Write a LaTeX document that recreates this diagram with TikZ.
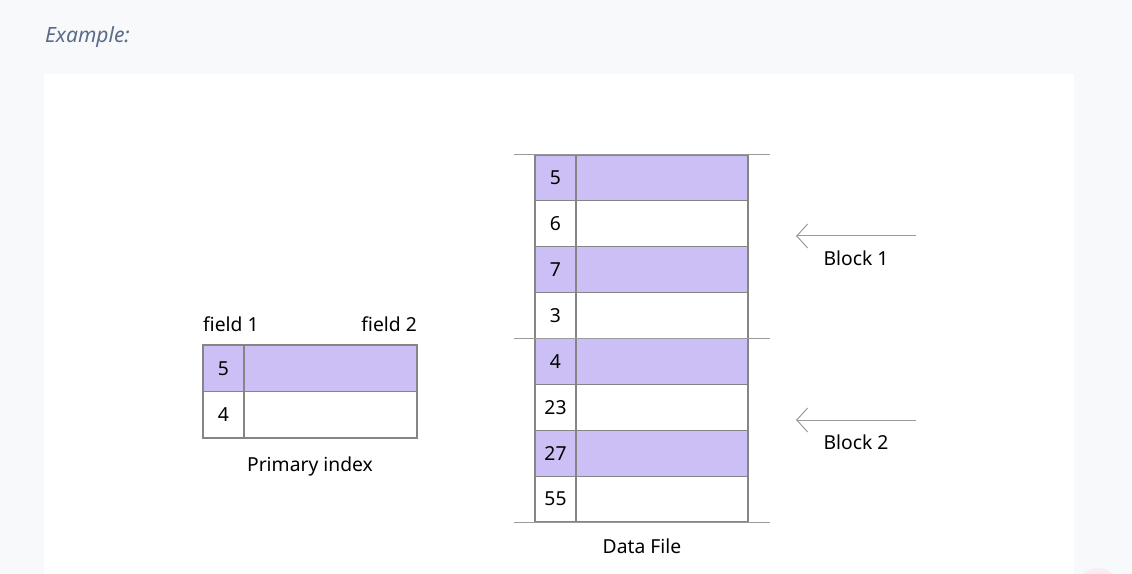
\documentclass[tikz,border=0pt]{standalone}
\usepackage{fontspec}
\setmainfont{Noto Sans}
\usepackage{tikz}
\usetikzlibrary{arrows.meta,positioning}
\definecolor{pagebg}{HTML}{F8F9FB}
\definecolor{rowfill}{HTML}{CCBFF5}
\definecolor{cellline}{HTML}{858585}
\definecolor{ruleline}{HTML}{9A9A9A}
\definecolor{notecol}{HTML}{5B6B8A}
\definecolor{bubble}{HTML}{FCEBF0}
\tikzset{
 txt/.style={font=\fontsize{19.3bp}{23bp}\selectfont, text=black, inner sep=0pt}, % plain labels
 cell/.style={txt, draw=cellline, line width=1.2bp, minimum height=45.875bp, outer sep=0pt},
 keycell/.style={cell, minimum width=41bp},
 valcell/.style={cell, minimum width=172bp},
 blockline/.style={draw=ruleline, line width=1bp},
 ptr/.style={draw=ruleline, line width=1bp, -{Straight Barb[length=11bp,width=24bp]}}
}
\begin{document}
\begin{tikzpicture}[x=1bp,y=-1bp]
    \useasboundingbox (0,0) rectangle (1132,574);
    \fill[pagebg] (0,0) rectangle (1132,574);
    \fill[white] (44,74) rectangle (1074,574);
    \fill[bubble] (1098,590) circle (22);
    \node[anchor=west, font=\fontsize{21bp}{25bp}\itshape, text=notecol, inner sep=0pt] (ex) at (45,37) {Example:};

    % primary index
    \node[keycell, fill=rowfill, minimum height=46.5bp] (p1) at (223.5,368.25) {5};
    \node[valcell, fill=rowfill, minimum height=46.5bp, minimum width=173bp, right=0pt of p1] (q1) {};
    \node[keycell, minimum height=46.5bp, below=0pt of p1] (p2) {4};
    \node[valcell, minimum height=46.5bp, minimum width=173bp, right=0pt of p2] (q2) {};
    \node[txt, anchor=west] (f1) at (203,324) {field 1};
    \node[txt, anchor=east] (f2) at (417,324) {field 2};
    \node[txt] (pidx) at (310,466) {Primary index};

    % data file
    \foreach \v [count=\i] in {5,6,7,3,4,23,27,55} {
        \pgfmathsetmacro{\rowy}{155+45.875*(\i-0.5)}
        \ifodd\i
            \node[keycell, fill=rowfill] (k\i) at (555.5,\rowy) {\v};
            \node[valcell, fill=rowfill, right=0pt of k\i] (v\i) {};
        \else
            \node[keycell] (k\i) at (555.5,\rowy) {\v};
            \node[valcell, right=0pt of k\i] (v\i) {};
        \fi
    }
    \draw[blockline] ([xshift=-21bp]k1.north west) -- ([xshift=22bp]v1.north east);
    \draw[blockline] ([xshift=-21bp]k5.north west) -- ([xshift=22bp]v5.north east);
    \draw[blockline] ([xshift=-21bp]k8.south west) -- ([xshift=22bp]v8.south east);
    \node[txt] (dfile) at (642,546) {Data File};

    % blocks
    \coordinate (t1) at (916,236);
    \coordinate (h1) at (796,236);
    \coordinate (t2) at (916,420);
    \coordinate (h2) at (796,420);
    \draw[ptr] (t1) -- (h1);
    \draw[ptr] (t2) -- (h2);
    \node[txt] (blk1) at (856,258) {Block 1};
    \node[txt] (blk2) at (856,442) {Block 2};
\end{tikzpicture}
\end{document}
